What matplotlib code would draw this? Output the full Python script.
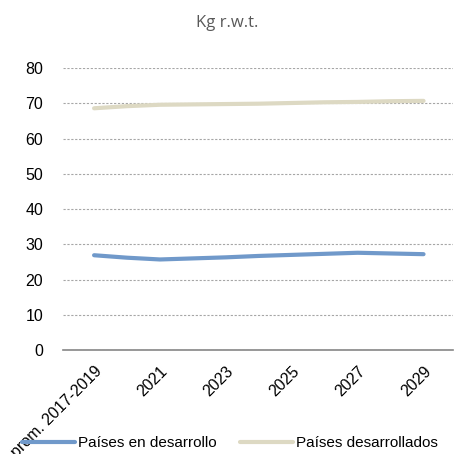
import matplotlib.pyplot as plt

# categories: 3-year average, then one point per year (labels every other year)
categories = ["prom. 2017-2019", "2020", "2021", "2022", "2023", "2024",
              "2025", "2026", "2027", "2028", "2029"]
tick_labels = ["prom. 2017-2019", "2021", "2023", "2025", "2027", "2029"]
en_desarrollo = [26.9, 26.2, 25.7, 26.0, 26.3, 26.7, 27.0, 27.3, 27.6, 27.4, 27.2]
desarrollados = [68.6, 69.2, 69.6, 69.7, 69.8, 69.9, 70.1, 70.3, 70.4, 70.6, 70.7]

plt.rcParams["font.family"] = ["Liberation Sans", "DejaVu Sans"]

fig = plt.figure(figsize=(4.55, 4.54), dpi=100)
ax = fig.add_axes([0.138, 0.229, 0.858, 0.621])

x = list(range(len(categories)))
ax.plot(x, en_desarrollo, color="#7099CA", linewidth=3, label="Países en desarrollo",
        solid_capstyle="round")
ax.plot(x, desarrollados, color="#DDD9C3", linewidth=3, label="Países desarrollados",
        solid_capstyle="round")

ax.set_xlim(-0.95, 10.9)
ax.set_ylim(0, 80)
ax.set_yticks(range(0, 81, 10))
ax.yaxis.grid(True, linestyle=(0, (2, 1.5)), color="#A6A6A6", linewidth=0.8)
ax.set_axisbelow(True)

tick_pos = [categories.index(t) for t in tick_labels]
ax.set_xticks(tick_pos)
ax.set_xticklabels(tick_labels, rotation=45, ha="right", rotation_mode="anchor", fontsize=11.5)
ax.tick_params(axis="y", labelsize=11.5, length=0, pad=14)
ax.tick_params(axis="x", length=0, pad=10)

for side in ["top", "right", "left"]:
    ax.spines[side].set_visible(False)
ax.spines["bottom"].set_color("#868686")
ax.spines["bottom"].set_linewidth(1.2)

fig.text(0.499, 0.949, "Kg r.w.t.", ha="center", va="center", fontsize=12,
         color="#595959", family=["Open Sans", "DejaVu Sans"])

fig.legend(loc="center", bbox_to_anchor=(0.505, 0.024), ncol=2, frameon=False,
           fontsize=11, handlelength=3.5, handletextpad=0.2, columnspacing=1.5,
           borderpad=0, borderaxespad=0)

fig.savefig("out.png", dpi=100)
